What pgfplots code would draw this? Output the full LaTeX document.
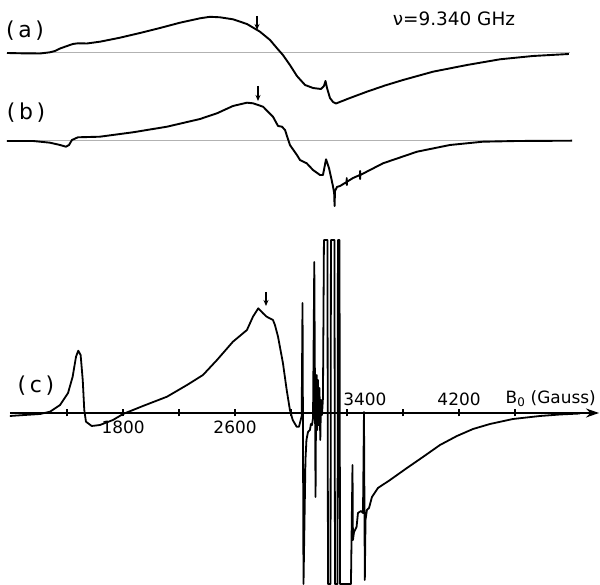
\documentclass[border=0pt]{standalone}
\usepackage{fontspec}
\setmainfont{DejaVu Sans}
\usepackage{pgfplots}
\usepackage{pgfplotstable}
\pgfplotsset{compat=1.18}
\usetikzlibrary{arrows.meta}

% Spectrum (a): B in Gauss, S = signal relative to its own baseline
\pgfplotstableread{
B S
971 0
1064 -0.3
1207 -0.5
1278 0.7
1314 2
1350 4.5
1400 7
1442 9
1478 9.7
1542 9.5
1635 11.3
1778 15.3
1921 20
2064 25
2207 30.3
2350 34.7
2421 36.2
2492 35.7
2585 33.7
2685 29
2778 21.3
2850 13
2900 4.7
2942 -2
2992 -12
3042 -23
3100 -32
3157 -35
3214 -36
3235 -33
3246 -28
3257 -35
3278 -45
3300 -49
3321 -50.5
3421 -45
3542 -38.7
3671 -32.5
3800 -27
4014 -18.7
4257 -12
4493 -6.3
4728 -3
4985 -1
}\speca

\pgfplotstableread{
B S
971 0
1157 0
1278 -1.7
1350 -4
1392 -5.7
1414 -4
1435 1
1478 3.7
1635 4.3
1871 8.7
2114 14.3
2350 22
2471 27.7
2585 35
2685 38.3
2728 37.7
2800 34.3
2871 24.3
2907 15
2935 14.3
2957 11
2992 -4
3042 -14
3064 -19
3112 -22.3
3157 -29
3207 -34
3228 -34
3250 -18.3
3271 -27
3290 -39
3300 -45.7
3308 -52
3311 -65
3314 -50
3328 -46
3350 -45
3397 -41
3398 -37
3399 -44
3400 -40.7
3443 -37
3492 -34
3493 -30
3494 -38
3495 -34
3657 -22.3
3900 -10.7
4135 -4
4371 -0.7
4614 0
5007 0.3
}\specb

\pgfplotstableread{
B S
992 -3
1064 -2.3
1207 -1
1278 1.3
1350 8
1407 20
1440 36.3
1464 56.3
1480 62.3
1497 58
1512 33
1523 3
1535 -8.7
1576 -13
1635 -12
1728 -7
1800 -1
1942 7
2114 16.3
2257 28
2371 38
2471 53
2585 71.3
2685 83
2728 96.3
2766 104.7
2800 99.7
2826 96.3
2871 93
2885 88
2907 76.3
2942 50
2969 23
2992 3
3012 -7
3040 -13.7
3057 -13.7
3076 -3
3082 110
3089 -171
3103 -47
3110 -27
3121 -19
3135 -17
3142 -11
3150 -12
3157 -5
3166 151
3175 -84
3178 -7
3183 38
3187 -17
3192 33
3197 -12
3203 25
3209 -27
3214 13
3221 -2
3228 15
3235 173
3260 173
3264 -171
3282 -171
3285 173
3310 173
3314 -171
3332 -171
3335 173
3346 173
3350 -171
3428 -171
3439 -52
3442 -127
3450 -119
3468 -114
3478 -100
3500 -98
3514 -100
3521 1
3527 -167
3532 -107
3542 -97
3557 -95
3578 -84
3621 -75
3707 -67
3828 -55
3942 -44
4064 -32
4185 -23
4300 -16
4421 -11
4585 -6
4778 -3
4921 -1.5
5064 -0.5
}\specc

\begin{document}
\begin{tikzpicture}
\begin{axis}[
  width=600bp, height=584bp, scale only axis,
  xmin=921, xmax=5207, ymin=-171, ymax=413,
  axis x line=middle, axis y line=none,
  x axis line style={draw=none},
  xtick={1400,1800,...,4600}, xticklabels={},
  tick align=center, major tick length=7bp,
  every tick/.style={black, line width=1.5bp},
  clip=false,
]
\path (rel axis cs:0,0) rectangle (rel axis cs:1,1);
% baselines of (a) and (b)
\addplot[gray!60, line width=1bp] coordinates {(971,360) (4993,360)};
\addplot[gray!60, line width=1bp] coordinates {(971,272) (5007,272)};
% axis of (c)
\addplot[black, line width=1.6bp, -{Stealth[length=13bp,width=9bp]}] coordinates {(992,0) (5200,0)};
% spectra
\addplot[black, line width=1.9bp, line join=round] table[x=B, y expr=\thisrow{S}+360] {\speca};
\addplot[black, line width=1.9bp, line join=round] table[x=B, y expr=\thisrow{S}+272] {\specb};
\addplot[black, line width=1.8bp, line join=round] table[x=B, y=S] {\specc};
% arrows
\draw[line width=1.5bp, -{Stealth[length=6bp,width=5bp]}] (axis cs:2757,397) -- (axis cs:2757,383);
\draw[line width=1.5bp, -{Stealth[length=6bp,width=5bp]}] (axis cs:2764,327) -- (axis cs:2764,312);
\draw[line width=1.5bp, -{Stealth[length=6bp,width=5bp]}] (axis cs:2821,121) -- (axis cs:2821,107);
% labels
\node[font=\fontsize{22}{22}\selectfont] at (axis cs:1100,382) {(\,a\,)};
\node[font=\fontsize{22}{22}\selectfont] at (axis cs:1107,300) {(\,b\,)};
\node[font=\fontsize{22}{22}\selectfont] at (axis cs:1178,27) {(\,c\,)};
\node[font=\fontsize{18.5}{18.5}\selectfont] at (axis cs:4164,394.7) {ν=9.340 GHz};
\node[font=\fontsize{17}{17}\selectfont] at (axis cs:1800,-14.5) {1800};
\node[font=\fontsize{17}{17}\selectfont] at (axis cs:2600,-14.5) {2600};
\node[font=\fontsize{17}{17}\selectfont] at (axis cs:3528,14) {3400};
\node[font=\fontsize{17}{17}\selectfont] at (axis cs:4200,14) {4200};
\node[font=\fontsize{17}{17}\selectfont] at (axis cs:4855,14) {B\textsubscript{0} (Gauss)};
\end{axis}
\end{tikzpicture}
\end{document}
